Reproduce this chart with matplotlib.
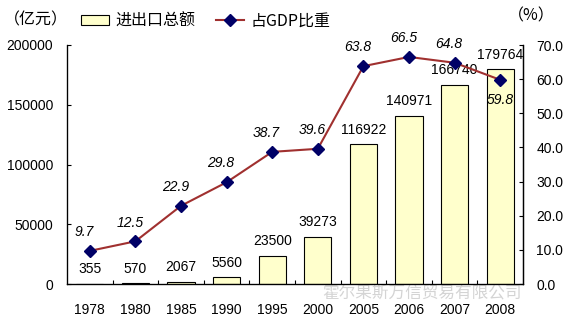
import matplotlib
matplotlib.use('Agg')
import matplotlib.pyplot as plt
from matplotlib.ticker import MultipleLocator, FuncFormatter
from matplotlib.patches import Patch
from matplotlib.lines import Line2D

years = ['1978', '1980', '1985', '1990', '1995', '2000', '2005', '2006', '2007', '2008']
trade_total = [355, 570, 2067, 5560, 23500, 39273, 116922, 140971, 166740, 179764]
gdp_share = [9.7, 12.5, 22.9, 29.8, 38.7, 39.6, 63.8, 66.5, 64.8, 59.8]

CJK = ['Noto Sans CJK SC', 'DejaVu Sans']
plt.rcParams['font.family'] = ['Liberation Sans', 'Noto Sans CJK SC', 'DejaVu Sans']

BAR_COLOR = '#FFFFCC'
LINE_COLOR = '#A0302F'
MARK_COLOR = '#000066'

fig = plt.figure(figsize=(5.75, 3.22), dpi=100)
W, H = 575, 322
ax = fig.add_axes([67 / W, 38 / H, 456 / W, 239 / H])

x = list(range(len(years)))
ax.bar(x, trade_total, width=0.6, color=BAR_COLOR, edgecolor='black',
       linewidth=0.8, zorder=2)
ax.set_xlim(-0.5, len(years) - 0.5)
ax.set_ylim(0, 200000)
ax.yaxis.set_major_locator(MultipleLocator(50000))
ax.set_xticks(x)
ax.set_xticklabels(years)
ax.set_xticks([i + 0.5 for i in x[:-1]], minor=True)
ax.tick_params(axis='x', which='major', length=0, pad=13.5, labelsize=10)
ax.tick_params(axis='x', which='minor', direction='in', length=3, width=0.8)
ax.tick_params(axis='y', direction='in', length=3, width=0.8, pad=10, labelsize=10)
ax.spines['top'].set_visible(False)
for s in ('left', 'bottom', 'right'):
    ax.spines[s].set_linewidth(0.9)

for i, v in zip(x, trade_total):
    ax.annotate(str(v), (i, v), xytext=(0, 5.5), textcoords='offset points',
                ha='center', va='bottom', fontsize=10, zorder=4)

ax2 = ax.twinx()
ax2.set_ylim(0, 70)
ax2.yaxis.set_major_locator(MultipleLocator(10))
ax2.yaxis.set_major_formatter(FuncFormatter(lambda v, p: f'{v:.1f}'))
ax2.tick_params(axis='y', direction='in', length=3, width=0.8, pad=9.5, labelsize=10)
ax2.spines['top'].set_visible(False)
ax2.spines['right'].set_linewidth(0.9)
ax2.plot(x, gdp_share, color=LINE_COLOR, linewidth=1.5, marker='D',
         markersize=6, markerfacecolor=MARK_COLOR, markeredgecolor=MARK_COLOR,
         zorder=3)
for i, v in zip(x, gdp_share):
    if i == len(x) - 1:
        ax2.annotate(f'{v:.1f}', (i, v), xytext=(0, -9.5), textcoords='offset points',
                     ha='center', va='top', fontsize=10, style='italic')
    else:
        ax2.annotate(f'{v:.1f}', (i, v), xytext=(-4, 8.5), textcoords='offset points',
                     ha='center', va='bottom', fontsize=10, style='italic')

handles = [Patch(facecolor=BAR_COLOR, edgecolor='black', linewidth=0.8),
           Line2D([], [], color=LINE_COLOR, linewidth=1.5, marker='D', markersize=6,
                  markerfacecolor=MARK_COLOR, markeredgecolor=MARK_COLOR)]
fig.legend(handles, ['进出口总额', '占GDP比重'], loc='center left',
           bbox_to_anchor=(81 / W, 1 - 21 / H), ncol=2, frameon=False,
           prop={'family': CJK, 'size': 11.5}, handlelength=1.75, handleheight=0.65,
           handletextpad=0.4, columnspacing=1.3, borderpad=0, borderaxespad=0)

fig.text(4 / W, 1 - 20 / H, '（亿元）', va='center', ha='left', family=CJK, fontsize=11.5)
fig.text(508 / W, 1 - 16 / H, '（%）', va='center', ha='left', family=CJK, fontsize=11.5)
fig.text(322 / W, 1 - 293 / H, '霍尔果斯万信贸易有限公司', va='center', ha='left',
         family=CJK, fontsize=12, color='#d4d4d4', zorder=-1)

fig.savefig('out.png', dpi=100)
